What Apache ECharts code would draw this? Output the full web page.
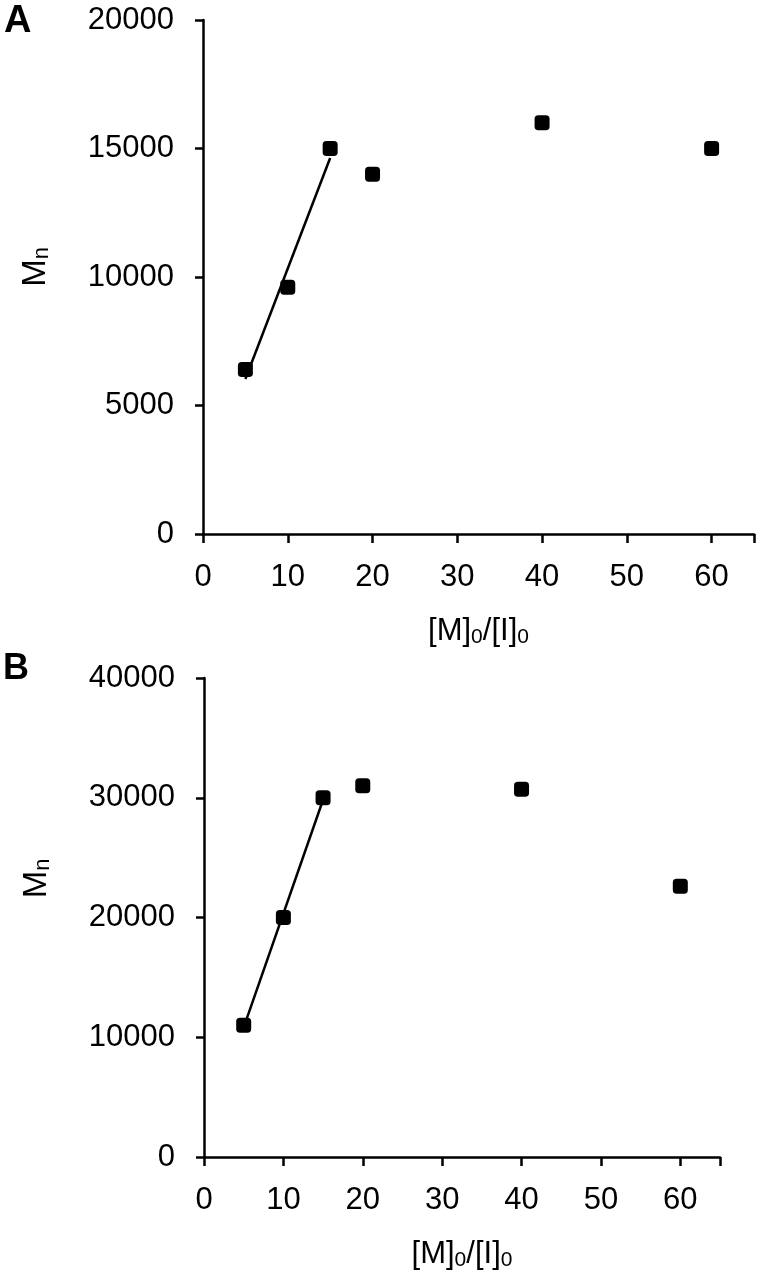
<!DOCTYPE html>
<html>
<head>
<meta charset="utf-8">
<script src="https://cdn.jsdelivr.net/npm/echarts@6/dist/echarts.min.js"></script>
<style>
html,body{margin:0;padding:0;background:#fff;}
#chart{width:757px;height:1272px;}
</style>
</head>
<body>
<div id="chart"></div>
<script>
// Panel A
const xA = [5, 10, 15, 20, 40, 60];
const mnA = [6400, 9600, 15000, 14000, 16000, 15000];
const fitXA = [5, 15];
const fitYA = [6030, 14630];
const yTicksA = [0, 5000, 10000, 15000, 20000];

// Panel B
const xB = [5, 10, 15, 20, 40, 60];
const mnB = [11000, 20000, 30000, 31000, 30700, 22600];
const fitXB = [5, 15];
const fitYB = [10830, 29830];
const yTicksB = [0, 10000, 20000, 30000, 40000];

const xTicks = [0, 10, 20, 30, 40, 50, 60];

const FONT = 'Liberation Sans, Arial, sans-serif';

function pairs(xs, ys){ return xs.map((x,i)=>[x, ys[i]]); }

function xAxisCfg(gi, fs, gap){
  return {
    gridIndex: gi, type: 'value', min: 0, max: 65, interval: 10,
    name: '{a|[M]}{s|0}{a|/[I]}{s|0}',
    nameLocation: 'middle', nameGap: gap,
    nameTextStyle: {
      rich: {
        a: {fontFamily: FONT, fontSize: fs, color: '#000', lineHeight: 34},
        s: {fontFamily: FONT, fontSize: Math.round(fs*0.68), color: '#000', lineHeight: 8, verticalAlign: 'bottom'}
      }
    },
    axisLine: {show: true, onZero: false, lineStyle: {color: '#000', width: 2.5}},
    axisTick: {show: true, inside: false, length: 9, lineStyle: {color: '#000', width: 2.5}},
    axisLabel: {
      fontFamily: FONT, fontSize: fs, color: '#000', margin: 28,
      formatter: v => xTicks.includes(v) ? String(v) : ''
    },
    splitLine: {show: false}
  };
}

function yAxisCfg(gi, fs, max, interval, ticks, gap, pad){
  return {
    gridIndex: gi, type: 'value', min: 0, max: max, interval: interval,
    name: '{a|M}{s|n}',
    nameLocation: 'middle', nameGap: gap, nameRotate: 90,
    nameTextStyle: {
      padding: pad,
      rich: {
        a: {fontFamily: FONT, fontSize: fs + 2, color: '#000', lineHeight: 34},
        s: {fontFamily: FONT, fontSize: Math.round(fs*0.7), color: '#000', lineHeight: 8, verticalAlign: 'bottom'}
      }
    },
    axisLine: {show: true, onZero: false, lineStyle: {color: '#000', width: 2.5}},
    axisTick: {show: true, inside: false, length: 8, lineStyle: {color: '#000', width: 2.5}},
    axisLabel: {fontFamily: FONT, fontSize: fs, color: '#000', margin: 29,
      formatter: v => ticks.includes(v) ? String(v) : ''},
    splitLine: {show: false}
  };
}

const chart = echarts.init(document.getElementById('chart'), null, {renderer: 'canvas'});
chart.setOption({
  backgroundColor: '#fff',
  animation: false,
  grid: [
    {left: 203, top: 20, width: 552, height: 514},
    {left: 204, top: 678, width: 516, height: 482}
  ],
  xAxis: [xAxisCfg(0, 31, 80), xAxisCfg(1, 31, 80)],
  yAxis: [
    yAxisCfg(0, 31, 20000, 5000, yTicksA, 150, [0,0,0,20]),
    yAxisCfg(1, 31, 40000, 10000, yTicksB, 150, [0,0,0,78])
  ],
  graphic: [
    {type: 'text', left: 4, top: 3, style: {text: 'A', font: 'bold 38px ' + FONT, fill: '#000'}},
    {type: 'text', left: 3, top: 651, style: {text: 'B', font: 'bold 36px ' + FONT, fill: '#000'}}
  ],
  series: [
    {type: 'line', xAxisIndex: 0, yAxisIndex: 0, data: pairs(fitXA, fitYA), symbol: 'none',
     lineStyle: {color: '#000', width: 2.5}, z: 2},
    {type: 'scatter', xAxisIndex: 0, yAxisIndex: 0, data: pairs(xA, mnA), symbol: 'roundRect', symbolSize: 15,
     itemStyle: {color: '#000', opacity: 1}, z: 3},
    {type: 'line', xAxisIndex: 1, yAxisIndex: 1, data: pairs(fitXB, fitYB), symbol: 'none',
     lineStyle: {color: '#000', width: 2.5}, z: 2},
    {type: 'scatter', xAxisIndex: 1, yAxisIndex: 1, data: pairs(xB, mnB), symbol: 'roundRect', symbolSize: 15,
     itemStyle: {color: '#000', opacity: 1}, z: 3}
  ]
});
</script>
</body>
</html>
